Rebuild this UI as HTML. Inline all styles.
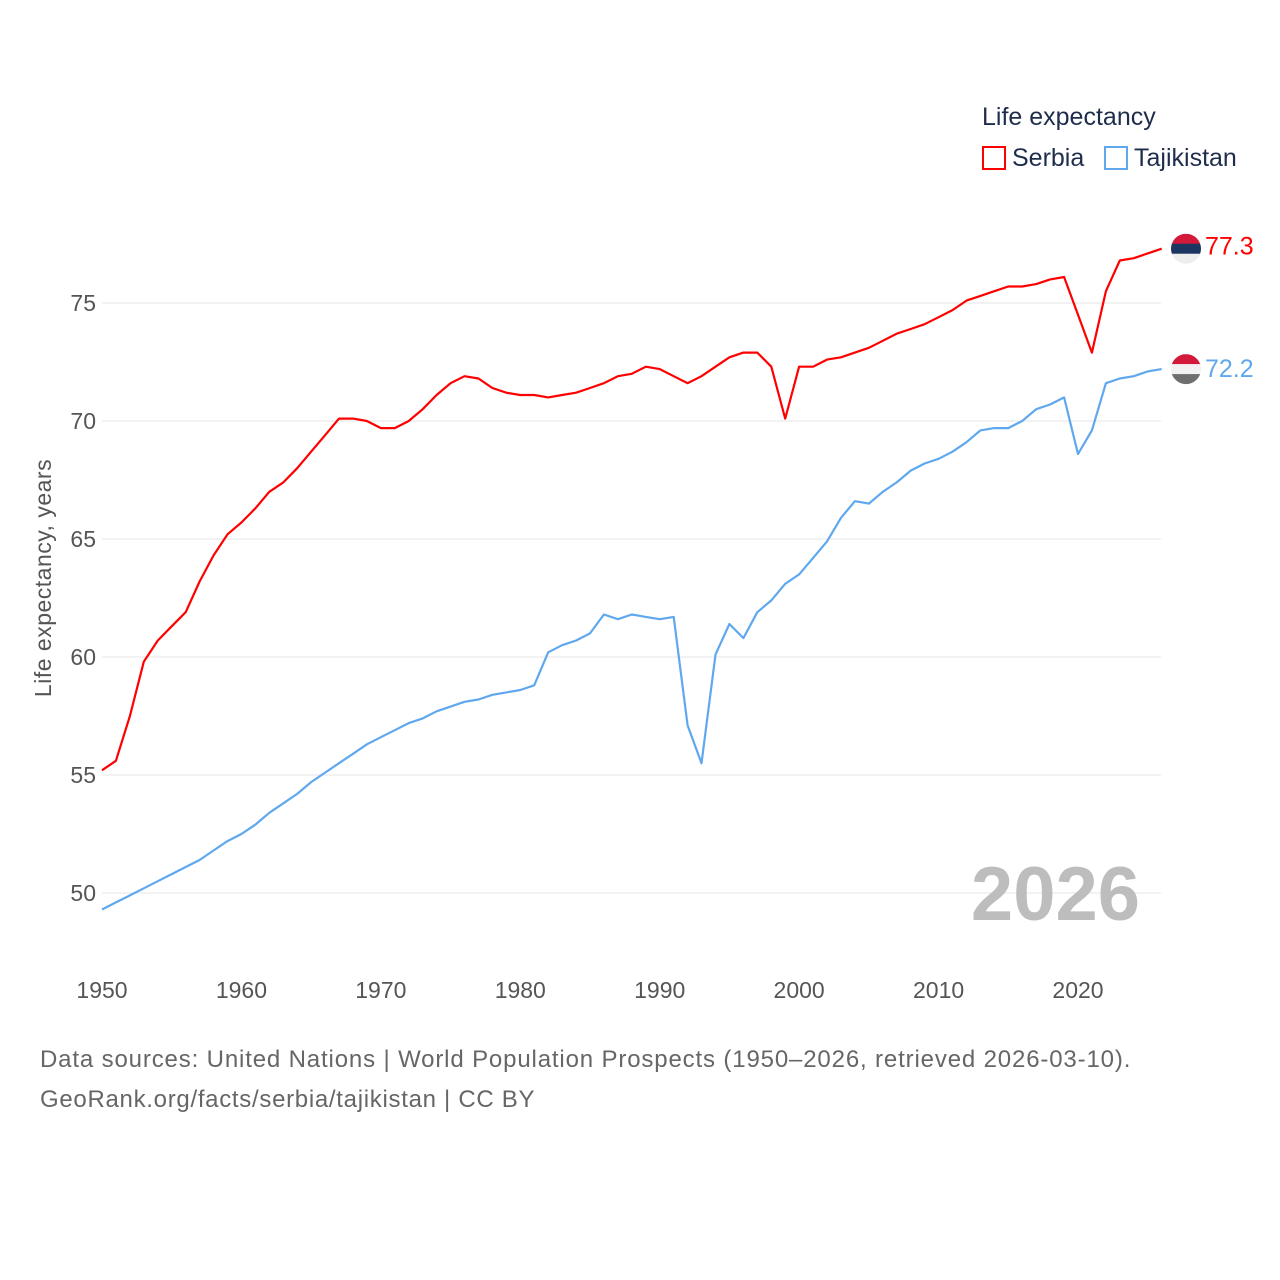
<!DOCTYPE html>
<html><head><meta charset="utf-8"><style>
body{margin:0;background:#fff;font-family:"Liberation Sans",sans-serif}
#wrap{position:relative;width:1280px;height:1280px;overflow:hidden}
.t{position:absolute;white-space:nowrap}
</style></head><body>
<div id="wrap">
<svg id="chart" width="1280" height="1280" style="position:absolute;left:0;top:0"></svg>
<div class="t" style="left:982px;top:103px;font-size:25px;color:#1f2d4d">Life expectancy</div>
<div class="t" style="left:982px;top:144px;font-size:25px;color:#1f2d4d"><span style="display:inline-block;width:24px;height:24px;border:2px solid #f00;box-sizing:border-box;vertical-align:-4px;margin-right:6px"></span>Serbia</div>
<div class="t" style="left:1104px;top:144px;font-size:25px;color:#1f2d4d"><span style="display:inline-block;width:24px;height:24px;border:2px solid #5fa8ee;box-sizing:border-box;vertical-align:-4px;margin-right:6px"></span>Tajikistan</div>
<div class="t" style="left:40px;top:1046px;font-size:24px;letter-spacing:0.85px;color:#666">Data sources: United Nations | World Population Prospects (1950–2026, retrieved 2026-03-10).</div>
<div class="t" style="left:40px;top:1086px;font-size:24px;letter-spacing:0.7px;color:#666">GeoRank.org/facts/serbia/tajikistan | CC BY</div>
</div>
<script>
const years=[];for(let y=1950;y<=2026;y++)years.push(y);
const serbia=[55.2,55.6,57.5,59.8,60.7,61.3,61.9,63.2,64.3,65.2,65.7,66.3,67.0,67.4,68.0,68.7,69.4,70.1,70.1,70.0,69.7,69.7,70.0,70.5,71.1,71.6,71.9,71.8,71.4,71.2,71.1,71.1,71.0,71.1,71.2,71.4,71.6,71.9,72.0,72.3,72.2,71.9,71.6,71.9,72.3,72.7,72.9,72.9,72.3,70.1,72.3,72.3,72.6,72.7,72.9,73.1,73.4,73.7,73.9,74.1,74.4,74.7,75.1,75.3,75.5,75.7,75.7,75.8,76.0,76.1,74.5,72.9,75.5,76.8,76.9,77.1,77.3];
const tajik=[49.3,49.6,49.9,50.2,50.5,50.8,51.1,51.4,51.8,52.2,52.5,52.9,53.4,53.8,54.2,54.7,55.1,55.5,55.9,56.3,56.6,56.9,57.2,57.4,57.7,57.9,58.1,58.2,58.4,58.5,58.6,58.8,60.2,60.5,60.7,61.0,61.8,61.6,61.8,61.7,61.6,61.7,57.1,55.5,60.1,61.4,60.8,61.9,62.4,63.1,63.5,64.2,64.9,65.9,66.6,66.5,67.0,67.4,67.9,68.2,68.4,68.7,69.1,69.6,69.7,69.7,70.0,70.5,70.7,71.0,68.6,69.6,71.6,71.8,71.9,72.1,72.2];
const yTicks=[50,55,60,65,70,75];
const xTicks=[1950,1960,1970,1980,1990,2000,2010,2020];
const X=y=>102+(y-1950)*976/70;
const Y=v=>303+(75-v)*23.6;
const svg=document.getElementById('chart');const NS='http://www.w3.org/2000/svg';
function mk(tag,attrs,txt){const e=document.createElementNS(NS,tag);for(const k in attrs)e.setAttribute(k,attrs[k]);if(txt!=null)e.textContent=txt;svg.appendChild(e);return e;}
yTicks.forEach(v=>{
 const l=mk('line',{x1:102,x2:1161,y1:Y(v),y2:Y(v),stroke:'#e6e6e6','stroke-width':1});
 
 
 const t=mk('text',{x:96,y:Y(v)+8,'text-anchor':'end','font-size':23,fill:'#555','font-family':'Liberation Sans, sans-serif'},v);
 
 
});
xTicks.forEach(y=>{
 const t=mk('text',{x:X(y),y:998,'text-anchor':'middle','font-size':23,fill:'#555','font-family':'Liberation Sans, sans-serif'},y);
 
 
});
const at=mk('text',{x:0,y:0,transform:'translate(51,578) rotate(-90)','text-anchor':'middle','font-size':23,'letter-spacing':0.5,fill:'#555','font-family':'Liberation Sans, sans-serif'},'Life expectancy, years');


const yr=mk('text',{x:1140,y:920,'text-anchor':'end','font-size':76,'font-weight':'bold',fill:'#bdbdbd','font-family':'Liberation Sans, sans-serif'},'2026');


function line(vals,color,name){
 const d=vals.map((v,i)=>(i?'L':'M')+X(years[i]).toFixed(1)+','+Y(v).toFixed(1)).join('');
 const p=mk('path',{d:d,fill:'none',stroke:color,'stroke-width':2.2,'stroke-linejoin':'round'});
 
 
 const last=vals[vals.length-1];const ly=Y(last);
 return {last,ly};
}
const s=line(serbia,'#ff0000','serbia');
const tj=line(tajik,'#5fa8ee','tajikistan');
function flag(cy,cols,name){
 const cx=1186,r=15;
 const cp=mk('clipPath',{id:'c'+name});
 const c=document.createElementNS(NS,'circle');c.setAttribute('cx',cx);c.setAttribute('cy',cy);c.setAttribute('r',r);cp.appendChild(c);
 cols.forEach((col,i)=>{const rr=mk('rect',{x:cx-r,y:cy-r+i*2*r/3,width:2*r,height:2*r/3+0.5,fill:col,'clip-path':'url(#c'+name+')'});
  
  });
}
flag(s.ly,['#d41a3a','#1c3561','#eeeeee'],'serbia');
flag(tj.ly,['#d41a3a','#f2f2f2','#6f6f6f'],'tajikistan');
const l1=mk('text',{x:1205,y:s.ly+6,'font-size':25,fill:'#ff0000','font-family':'Liberation Sans, sans-serif'},s.last.toFixed(1));


const l2=mk('text',{x:1205,y:tj.ly+8,'font-size':25,fill:'#5fa8ee','font-family':'Liberation Sans, sans-serif'},tj.last.toFixed(1));


</script>
</body></html>
